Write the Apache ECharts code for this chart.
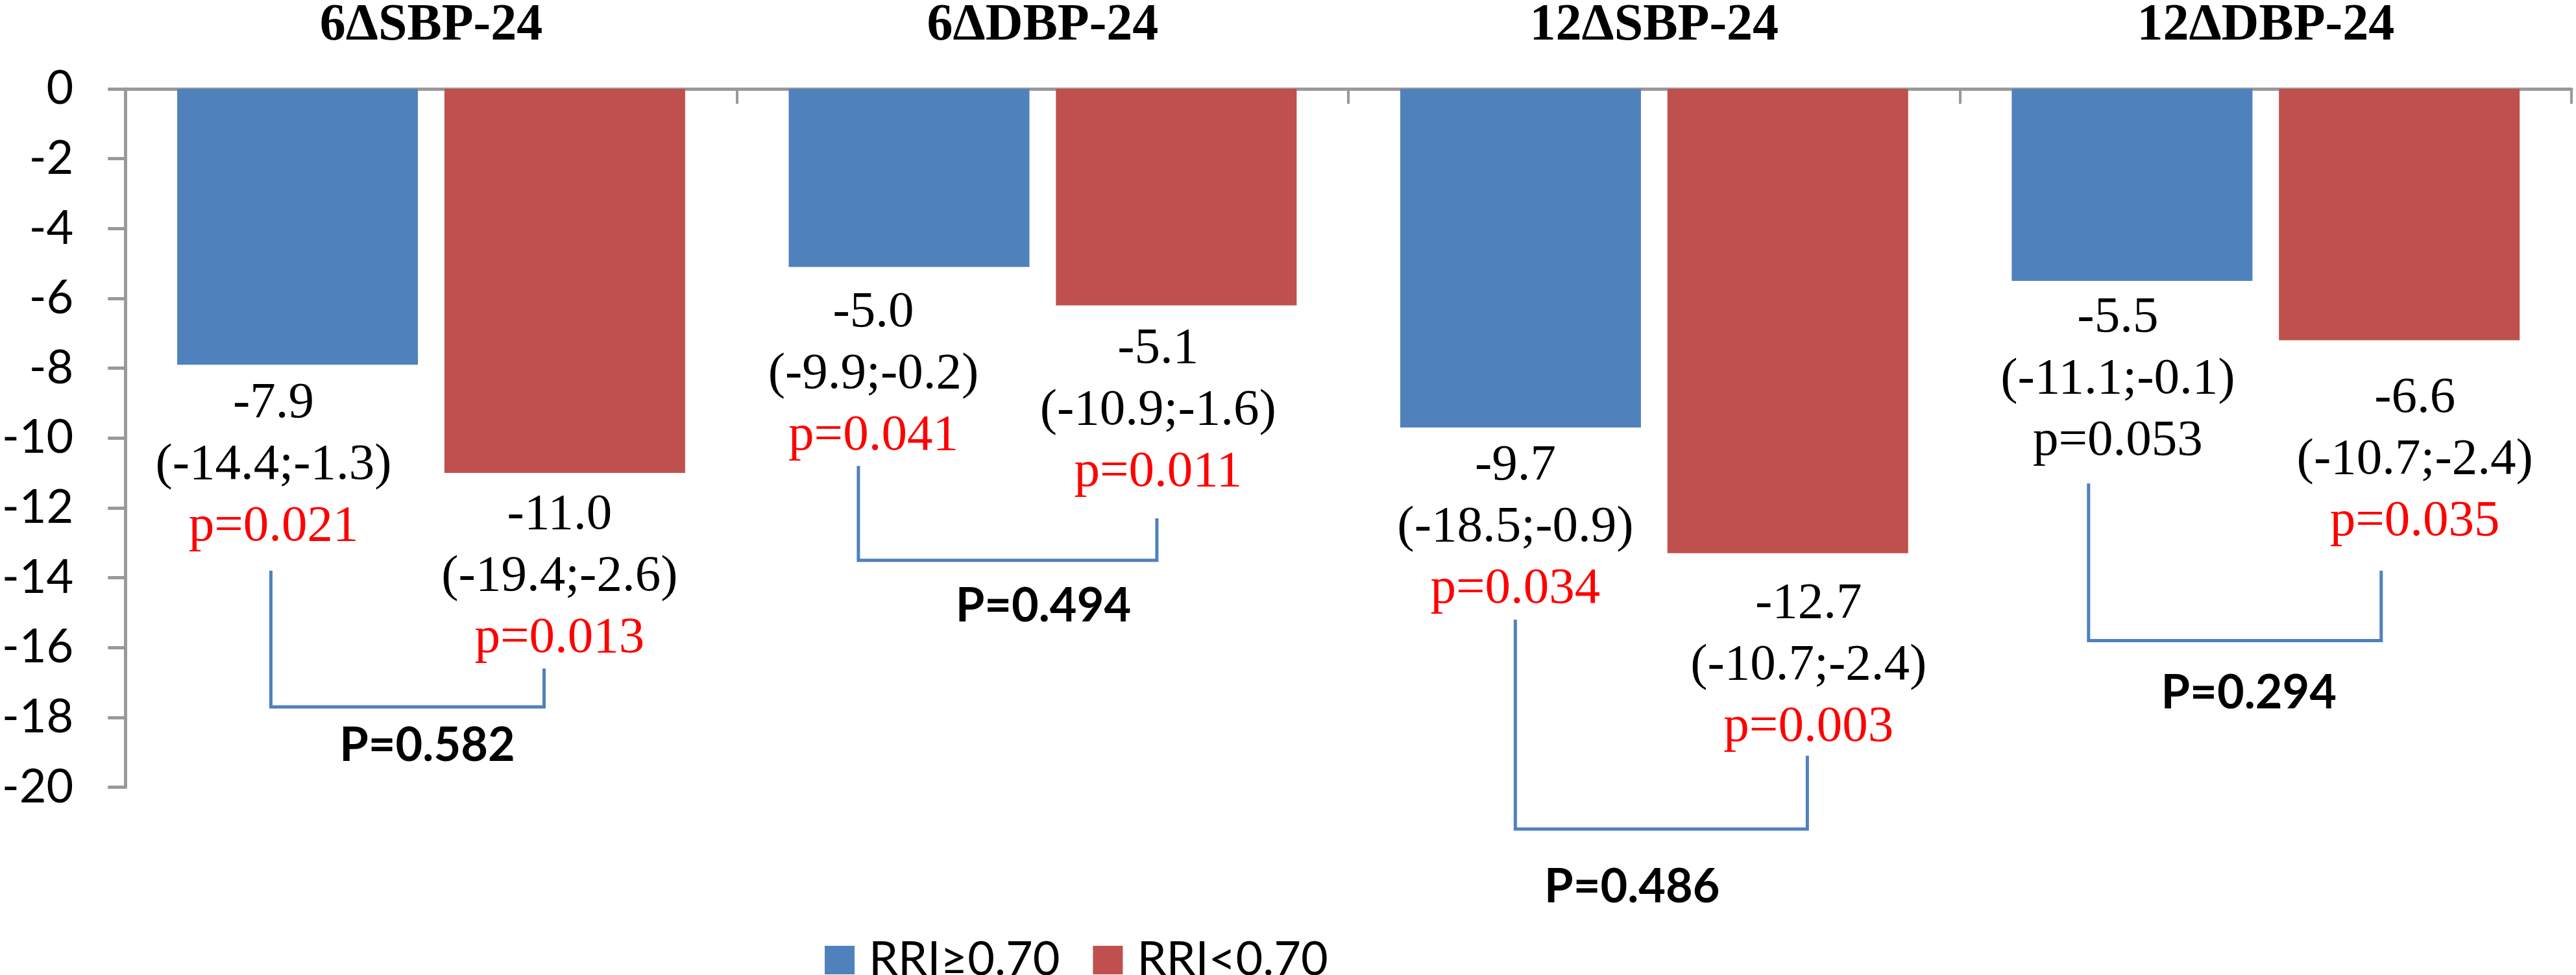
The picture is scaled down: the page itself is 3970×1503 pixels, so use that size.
<!DOCTYPE html>
<html>
<head>
<meta charset="utf-8">
<script src="https://cdn.jsdelivr.net/npm/echarts@6/dist/echarts.min.js"></script>
<style>
html,body{margin:0;padding:0;background:#ffffff;}
#chart{width:3970px;height:1503px;}
</style>
</head>
<body>
<div id="chart"></div>
<script>
// ---------- data ----------
const categories = ['6ΔSBP-24', '6ΔDBP-24', '12ΔSBP-24', '12ΔDBP-24'];
const seriesNames = ['RRI≥0.70', 'RRI<0.70'];
const highValues = [-7.9, -5.1, -9.7, -5.5];     // RRI>=0.70 bars
const lowValues = [-11.0, -6.2, -13.3, -7.2];    // RRI<0.70 bars
const highMeanText = ['-7.9', '-5.0', '-9.7', '-5.5'];
const lowMeanText = ['-11.0', '-5.1', '-12.7', '-6.6'];
const highCI = ['(-14.4;-1.3)', '(-9.9;-0.2)', '(-18.5;-0.9)', '(-11.1;-0.1)'];
const lowCI = ['(-19.4;-2.6)', '(-10.9;-1.6)', '(-10.7;-2.4)', '(-10.7;-2.4)'];
const highP = [0.021, 0.041, 0.034, 0.053];
const lowP = [0.013, 0.011, 0.003, 0.035];
const betweenP = [0.582, 0.494, 0.486, 0.294];
const yMin = -20, yMax = 0, yStep = 2;

// ---------- layout (pixel offsets / annotation anchors) ----------
const labelOffsetHigh = [[-37, 13], [-55, 23], [-8, 12], [-22, 10]];
const labelOffsetLow = [[-8, 18], [-28, 20], [32, 31], [24, 42]];
const bracketX = [[-247, 174], [-284, 176], [-214, 236], [-273, 178]];
const bracketY = [[-13.8, -16.6, -17.7], [-10.8, -12.3, -13.5], [-15.2, -19.1, -21.2], [-11.3, -13.8, -15.8]];
const pLabelPos = [[-6, -18.82], [1, -14.82], [-34, -22.86], [-26, -17.32]];

const BLUE = '#4F81BD', RED = '#C0504D', GREY = '#999999';
const serif = 'Liberation Serif';
const sans = 'Lato';

const rich = {
  m: {fontFamily: serif, fontSize: 79, lineHeight: 95, color: '#000000'},
  s: {fontFamily: serif, fontSize: 79, lineHeight: 95, color: '#FF0000'},
  n: {fontFamily: serif, fontSize: 79, lineHeight: 95, color: '#000000'}
};

function fmt(means, cis, ps, i) {
  const tag = ps[i] < 0.05 ? 's' : 'n';
  return '{m|' + means[i] + '}\n{m|' + cis[i] + '}\n{' + tag + '|p=' + ps[i].toFixed(3) + '}';
}

function barSeries(name, values, offsets, means, cis, ps, color) {
  return {
    type: 'bar',
    name: name,
    barWidth: 371,
    barGap: '11%',
    itemStyle: {color: color},
    data: values.map((v, i) => ({value: v, label: {offset: offsets[i]}})),
    label: {
      show: true,
      position: 'bottom',
      distance: 0,
      fontFamily: serif,
      fontSize: 79,
      lineHeight: 95,
      formatter: p => fmt(means, cis, ps, p.dataIndex),
      rich: rich
    }
  };
}

function renderBracket(params, api) {
  const i = params.dataIndex;
  const cx = api.coord([i, 0])[0];
  const xl = cx + bracketX[i][0];
  const xr = cx + bracketX[i][1];
  const yl = api.coord([i, bracketY[i][0]])[1];
  const yr = api.coord([i, bracketY[i][1]])[1];
  const yb = api.coord([i, bracketY[i][2]])[1];
  const yt = api.coord([i, pLabelPos[i][1]])[1];
  return {
    type: 'group',
    children: [
      {
        type: 'polyline',
        shape: {points: [[xl, yl], [xl, yb], [xr, yb], [xr, yr]]},
        style: {stroke: BLUE, lineWidth: 5, fill: null}
      },
      {
        type: 'text',
        x: cx + pLabelPos[i][0],
        y: yt,
        style: {
          text: 'P=' + betweenP[i].toFixed(3),
          fontFamily: sans,
          fontWeight: 'bold',
          fontSize: 72,
          fill: '#000000',
          align: 'center',
          verticalAlign: 'middle'
        }
      }
    ]
  };
}

const chart = echarts.init(document.getElementById('chart'), null, {renderer: 'canvas'});
chart.setOption({
  animation: false,
  backgroundColor: '#ffffff',
  grid: {left: 185, right: 7, top: 127, bottom: 289.5, containLabel: false},
  legend: {
    data: seriesNames,
    left: 1266,
    top: 1439,
    icon: 'rect',
    itemWidth: 46,
    itemHeight: 44,
    itemGap: 51,
    textStyle: {fontFamily: sans, fontSize: 72, color: '#000000', padding: [0, 0, 0, 17]}
  },
  xAxis: {
    type: 'category',
    data: categories,
    position: 'top',
    axisLine: {show: true, lineStyle: {color: GREY, width: 5}},
    axisTick: {show: true, inside: true, length: 23, lineStyle: {color: GREY, width: 4}},
    axisLabel: {
      fontFamily: serif, fontWeight: 'bold', fontSize: 80, color: '#000000',
      margin: 97, verticalAlign: 'middle'
    },
    splitLine: {show: false}
  },
  yAxis: {
    type: 'value',
    min: yMin,
    max: yMax,
    interval: yStep,
    axisLine: {show: true, lineStyle: {color: GREY, width: 5}},
    axisTick: {show: true, length: 27, lineStyle: {color: GREY, width: 5}},
    axisLabel: {fontFamily: sans, fontSize: 72, color: '#000000', margin: 80},
    splitLine: {show: false}
  },
  series: [
    barSeries(seriesNames[0], highValues, labelOffsetHigh, highMeanText, highCI, highP, BLUE),
    barSeries(seriesNames[1], lowValues, labelOffsetLow, lowMeanText, lowCI, lowP, RED),
    {
      type: 'custom',
      name: 'brackets',
      clip: false,
      silent: true,
      renderItem: renderBracket,
      encode: {x: 0, y: 1},
      data: categories.map((c, i) => [i, 0]),
      z: 5
    }
  ]
});
</script>
</body>
</html>
